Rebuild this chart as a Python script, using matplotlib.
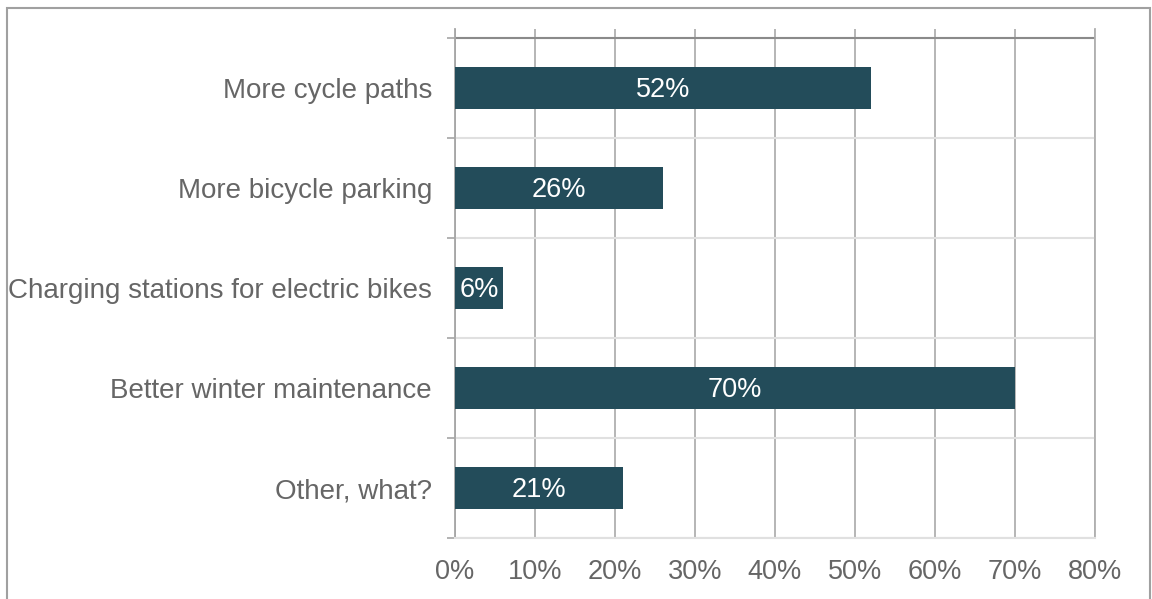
import numpy as np
import matplotlib.pyplot as plt
from matplotlib.patches import Rectangle

categories = ["More cycle paths", "More bicycle parking", "Charging stations for electric bikes",
              "Better winter maintenance", "Other, what?"]
values = [52, 26, 6, 70, 21]
xticks = [0, 10, 20, 30, 40, 50, 60, 70, 80]

plt.rcParams['font.family'] = ['Liberation Sans', 'DejaVu Sans']
text_col = '#666666'
bar_col = '#234C5A'
fs = 20

fig = plt.figure(figsize=(11.52, 5.99), dpi=100)
# axes box: x 455..1095 px, y 29..538 px
ax = fig.add_axes([455 / 1152, 1 - 538 / 599, 640 / 1152, 509 / 599])

n = len(categories)
y = np.arange(n)
bars = ax.barh(y, values, height=0.42, color=bar_col, zorder=3)
for b, v in zip(bars, values):
    ax.text(b.get_width() / 2, b.get_y() + b.get_height() / 2 + 0.02, f"{v}%",
            ha='center', va='center', color='white', fontsize=fs - 0.5, zorder=4)

ax.set_xlim(0, 80)
ax.set_ylim(n - 0.5, -0.59)
ax.set_xticks(xticks)
ax.set_xticklabels([f"{t}%" for t in xticks])
ax.set_yticks(y)
ax.set_yticklabels(categories)
ax.set_yticks(np.arange(n + 1) - 0.5, minor=True)

ax.tick_params(axis='x', length=0, pad=15, labelsize=fs - 0.5, labelcolor=text_col)
ax.tick_params(axis='y', which='major', length=0, pad=16.5, labelsize=fs, labelcolor=text_col)
ax.tick_params(axis='y', which='minor', length=6, width=1.2, color='#a6a6a6', direction='out')

ax.xaxis.grid(True, color='#b0b0b0', lw=1.3, zorder=0)
ax.yaxis.grid(True, which='minor', color='#e0e0e0', lw=1.5, zorder=0)
# darker top boundary line
ax.axhline(-0.5, color='#8a8a8a', lw=1.5, zorder=2)

ax.spines['top'].set_visible(False)
ax.spines['right'].set_color('#b0b0b0')
ax.spines['right'].set_linewidth(1.3)
ax.spines['left'].set_color('#a6a6a6')
ax.spines['left'].set_linewidth(1.3)
ax.spines['bottom'].set_color('#e0e0e0')
ax.spines['bottom'].set_linewidth(1.5)

fig.patches.append(Rectangle((7 / 1152, -0.05), 1143 / 1152, 1 - 8 / 599 + 0.05,
                             transform=fig.transFigure, fill=False,
                             edgecolor='#a0a0a0', lw=1.5))

fig.savefig('out.png', dpi=100)
